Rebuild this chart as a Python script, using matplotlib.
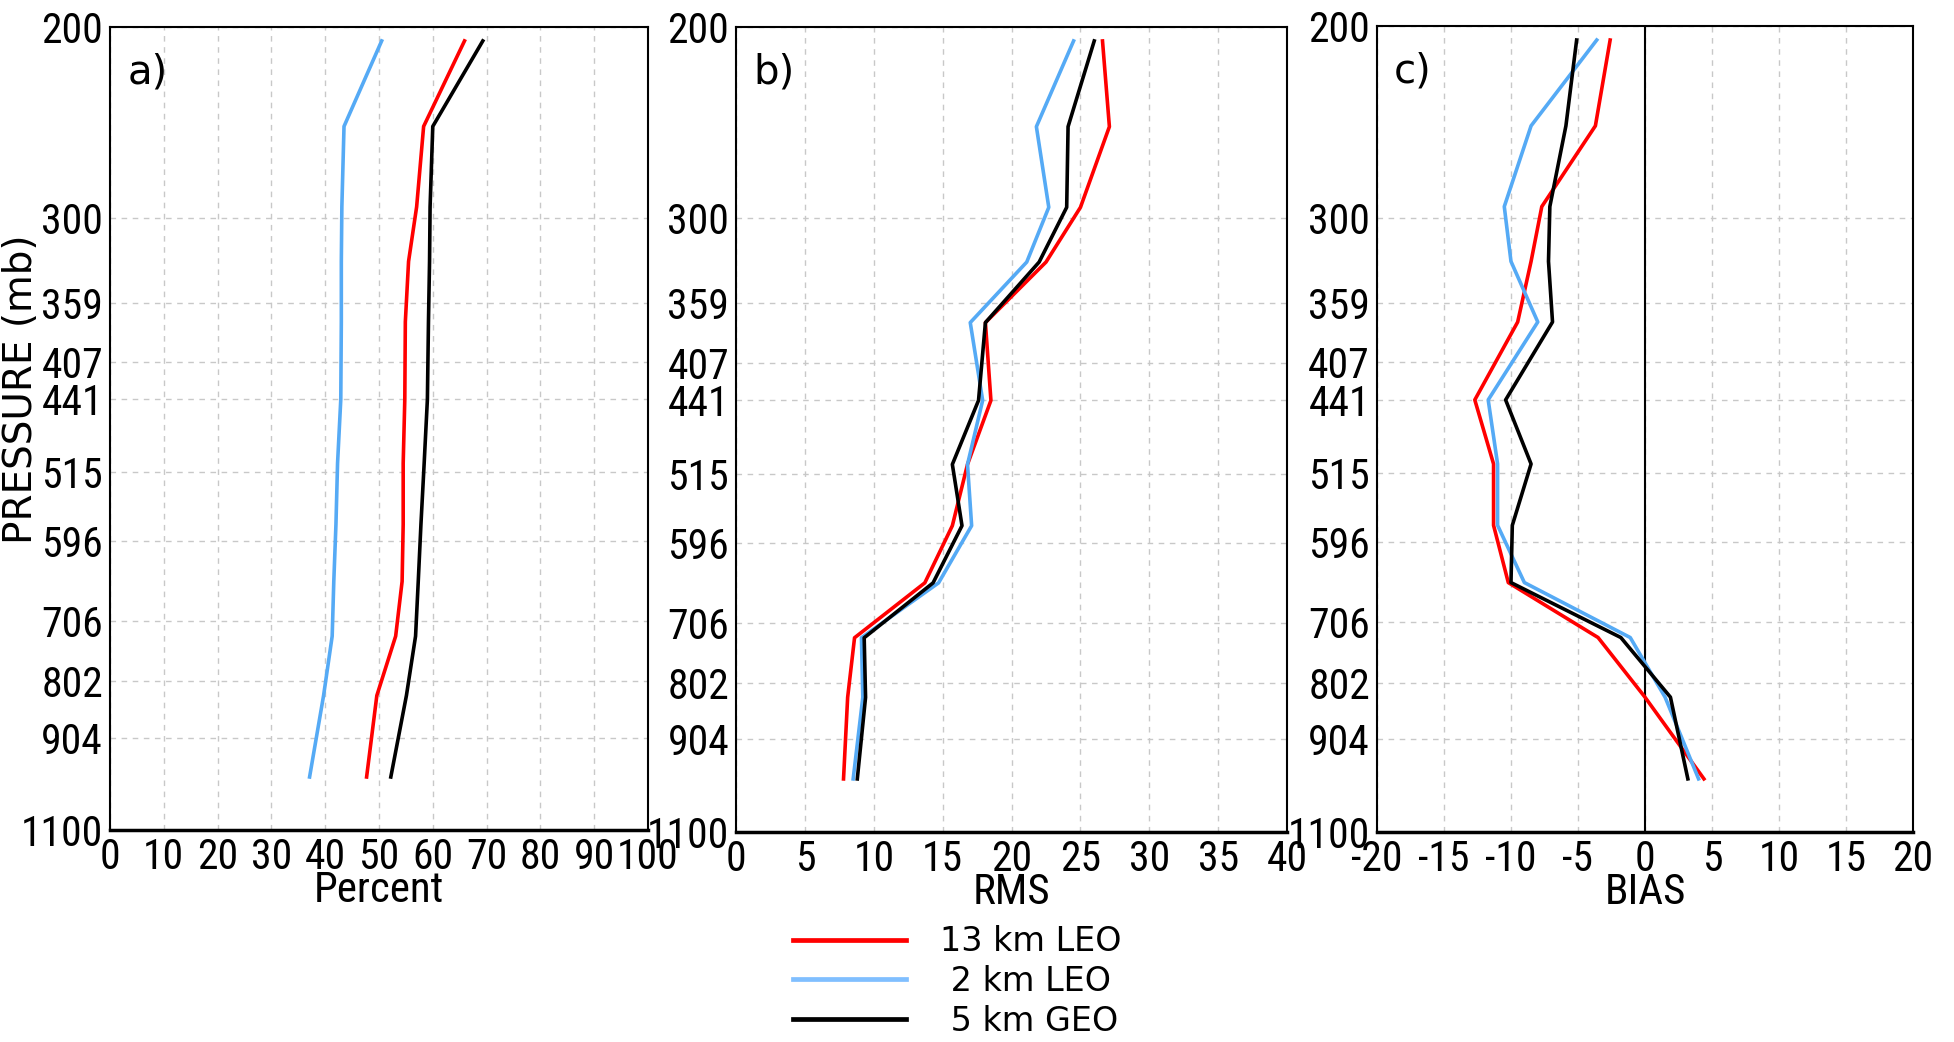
import matplotlib
matplotlib.use("Agg")
import matplotlib.pyplot as plt
import matplotlib.font_manager as fm
from matplotlib.lines import Line2D
from matplotlib.ticker import NullLocator

# pressure levels of the profiles (mb)
pressure = [206, 247, 293, 329, 374, 441, 505, 575, 649, 729, 827, 983]

# a) Percent
pct_13km_leo = [65.9, 58.3, 57.0, 55.5, 54.9, 54.8, 54.5, 54.5, 54.3, 53.1, 49.6, 47.7]
pct_2km_leo = [50.5, 43.5, 43.1, 43.0, 43.0, 42.9, 42.3, 42.0, 41.6, 41.3, 39.7, 37.1]
pct_5km_geo = [69.3, 60.0, 59.5, 59.4, 59.2, 59.0, 58.4, 57.8, 57.3, 56.8, 55.1, 52.2]

# b) RMS
rms_13km_leo = [26.6, 27.1, 25.0, 22.5, 18.1, 18.5, 16.8, 15.7, 13.7, 8.6, 8.1, 7.8]
rms_2km_leo = [24.5, 21.8, 22.7, 21.1, 17.0, 17.9, 16.8, 17.1, 14.7, 9.1, 9.2, 8.5]
rms_5km_geo = [26.0, 24.1, 24.0, 22.0, 18.1, 17.6, 15.7, 16.4, 14.3, 9.3, 9.4, 8.8]

# c) BIAS
bias_13km_leo = [-2.6, -3.7, -7.7, -8.5, -9.5, -12.7, -11.3, -11.3, -10.2, -3.5, 0.0, 4.4]
bias_2km_leo = [-3.6, -8.5, -10.5, -10.0, -8.0, -11.7, -11.0, -11.0, -9.0, -1.1, 1.5, 4.0]
bias_5km_geo = [-5.1, -5.9, -7.1, -7.2, -6.9, -10.4, -8.5, -9.9, -10.0, -1.8, 1.9, 3.2]

y_ticks = [200, 300, 359, 407, 441, 515, 596, 706, 802, 904, 1100]
series_labels = ["13 km LEO", " 2 km LEO", " 5 km GEO"]

RED = "#ff0000"
BLUE = "#55aaf5"
BLACK = "#000000"


def find_narrow_font():
    # look for any installed condensed / narrow sans face
    found = []
    for f in fm.fontManager.ttflist:
        if f.style != "normal" or f.weight not in (400, "normal", "regular", "book"):
            continue
        if "Mono" in f.name or "Serif" in f.name:
            continue
        if ("Narrow" in f.name or "Condensed" in f.name
                or f.stretch in ("condensed", "semi-condensed", "extra-condensed")):
            found.append(f)
    for pref in ["Liberation Sans Narrow", "Roboto Condensed", "DejaVu Sans", "Open Sans"]:
        for f in found:
            if f.name.startswith(pref):
                return f.fname
    if found:
        return found[0].fname
    return None


narrow_path = find_narrow_font()
if narrow_path:
    tick_size = 30
    def tick_prop(size=tick_size):
        return fm.FontProperties(fname=narrow_path, size=size)
else:
    tick_size = 25
    def tick_prop(size=tick_size):
        return fm.FontProperties(family="Liberation Sans", size=size)


def setup_axis(ax, xlim, xticks, xlabel, letter):
    ax.set_yscale("log")
    ax.set_ylim(1100, 200)
    ax.set_yticks(y_ticks)
    ax.set_yticklabels([str(t) for t in y_ticks], fontproperties=tick_prop())
    ax.yaxis.set_minor_locator(NullLocator())
    ax.set_xlim(*xlim)
    ax.set_xticks(xticks)
    ax.set_xticklabels([str(t) for t in xticks], fontproperties=tick_prop())
    ax.tick_params(length=0, pad=5)
    ax.grid(True, color="#c8c8c8", linestyle=(0, (4, 4)), linewidth=1.0)
    ax.set_axisbelow(True)
    for s in ax.spines.values():
        s.set_linewidth(1.5)
    ax.spines["bottom"].set_linewidth(2.5)
    ax.set_xlabel(xlabel, fontproperties=tick_prop(tick_size + 1), labelpad=-6)
    ax.text(0.032, 0.943, letter, transform=ax.transAxes, va="center", ha="left",
            fontsize=29, fontfamily="DejaVu Sans")


def plot_panel(ax, d13, d2, d5):
    ax.plot(d13, pressure, color=RED, lw=2.6, zorder=3)
    ax.plot(d2, pressure, color=BLUE, lw=2.6, zorder=3)
    ax.plot(d5, pressure, color=BLACK, lw=2.6, zorder=4)


fig = plt.figure(figsize=(19.54, 10.42), dpi=100)
ax_a = fig.add_axes([0.0563, 0.2035, 0.2753, 0.7706])
ax_b = fig.add_axes([0.3767, 0.2015, 0.2820, 0.7726])
ax_c = fig.add_axes([0.7047, 0.2015, 0.2743, 0.7735])

plot_panel(ax_a, pct_13km_leo, pct_2km_leo, pct_5km_geo)
plot_panel(ax_b, rms_13km_leo, rms_2km_leo, rms_5km_geo)
plot_panel(ax_c, bias_13km_leo, bias_2km_leo, bias_5km_geo)
ax_c.axvline(0, color="black", lw=1.5, zorder=2)

setup_axis(ax_a, (0, 100), list(range(0, 101, 10)), "Percent", "a)")
setup_axis(ax_b, (0, 40), list(range(0, 41, 5)), "RMS", "b)")
setup_axis(ax_c, (-20, 20), list(range(-20, 21, 5)), "BIAS", "c)")

fig.text(0.0108, 0.626, "PRESSURE (mb)", rotation=90, va="center", ha="center",
         fontsize=28, fontfamily="DejaVu Sans")

handles = [Line2D([], [], color=RED, lw=3.4),
           Line2D([], [], color="#80bfff", lw=3.4),
           Line2D([], [], color=BLACK, lw=3.4)]
fig.legend(handles, series_labels, loc="upper left", bbox_to_anchor=(0.4058, 0.112),
           frameon=False, handlelength=3.4, handletextpad=1.0,
           labelspacing=0.2, borderpad=0, borderaxespad=0,
           prop={"family": "DejaVu Sans", "size": 24})

fig.savefig("out.png", dpi=100)
